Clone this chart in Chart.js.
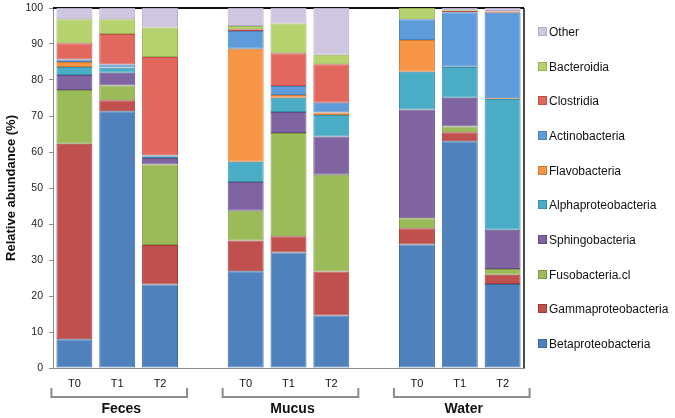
<!DOCTYPE html>
<html><head><meta charset="utf-8">
<script src="https://cdn.jsdelivr.net/npm/chart.js@4/dist/chart.umd.min.js"></script>
<style>html,body{margin:0;padding:0;background:#fff;}#wrap{width:675px;height:418px;position:relative;}</style>
</head><body><div id="wrap"><canvas id="c" width="675" height="418"></canvas></div>
<script>
// ---- data ----
const categories = ['T0','T1','T2','','T0','T1','T2','','T0','T1','T2'];
const groups = ['Feces','Mucus','Water'];
const groupRanges = [[0,2],[4,6],[8,10]];
const yTicks = [0,10,20,30,40,50,60,70,80,90,100];
const seriesNames = ['Betaproteobacteria','Gammaproteobacteria','Fusobacteria.cl','Sphingobacteria','Alphaproteobacteria','Flavobacteria','Actinobacteria','Clostridia','Bacteroidia','Other'];
const betaproteobacteria  = [8.0,71.3,23.2,null,26.9,32.1,14.6,null,34.3,63.0,23.3];
const gammaproteobacteria = [54.3,3.1,11.0,null,8.5,4.5,12.2,null,4.5,2.5,2.6];
const fusobacteria        = [14.9,4.1,22.3,null,8.3,28.7,26.9,null,2.8,1.6,1.6];
const sphingobacteria     = [4.2,3.5,1.8,null,8.0,5.8,10.6,null,30.2,8.0,10.9];
const alphaproteobacteria = [2.2,1.4,0.4,null,5.6,4.0,6.0,null,10.5,8.5,36.3];
const flavobacteria       = [1.4,0.1,0.0,null,31.4,0.7,0.7,null,8.8,0.1,0.2];
const actinobacteria      = [0.7,0.8,0.3,null,4.9,2.5,2.7,null,5.8,15.1,23.8];
const clostridia          = [4.5,8.5,27.4,null,0.5,9.1,10.7,null,0.0,0.4,0.3];
const bacteroidia         = [6.7,4.1,8.2,null,0.9,8.3,2.6,null,3.1,0.2,0.2];
const other               = [3.1,3.1,5.4,null,5.0,4.3,13.0,null,0.0,0.6,0.8];
const seriesValues = [betaproteobacteria,gammaproteobacteria,fusobacteria,sphingobacteria,alphaproteobacteria,flavobacteria,actinobacteria,clostridia,bacteroidia,other];

// ---- styles ----
const fills   = ['#4F81BD','#C0504D','#9BBB59','#8064A2','#4BACC6','#F79646','#5D9BDA','#E2675F','#B5D26E','#CFC6DF'];
const borders = ['#3D6A9E','#9E3B38','#7E9A45','#654C85','#3690A9','#D37A30','#4A81BD','#C24E48','#97B352','#B6AACB'];
const FONT = "'Liberation Sans', Arial, sans-serif";
const NARROW = "'Liberation Sans Narrow', 'Liberation Sans', Arial, sans-serif";

const datasets = seriesNames.map((n,i)=>({
  label:n, data:seriesValues[i], backgroundColor:fills[i], borderColor:borders[i],
  borderWidth:1, barPercentage:0.84, categoryPercentage:1.0, borderSkipped:false
}));

const framePlugin = {
  id:'frame',
  beforeDatasetsDraw(chart){
    const {ctx, chartArea:a} = chart;
    ctx.save();
    ctx.strokeStyle='#111'; ctx.lineWidth=2;
    ctx.beginPath(); ctx.moveTo(a.left, a.top); ctx.lineTo(a.right, a.top); ctx.stroke();
    ctx.lineWidth=1.5;
    ctx.beginPath(); ctx.moveTo(a.right, a.top); ctx.lineTo(a.right, a.bottom); ctx.stroke();
    ctx.restore();
  },
  afterDraw(chart){
    const {ctx} = chart;
    const xs = chart.scales.x;
    ctx.save();
    // brackets
    ctx.strokeStyle='#8C8C8C'; ctx.lineWidth=2;
    groupRanges.forEach((r,gi)=>{
      const x0 = xs.getPixelForValue(r[0]) - 23;
      const x1 = xs.getPixelForValue(r[1]) + 27;
      ctx.beginPath();
      ctx.moveTo(x0, 388); ctx.lineTo(x0, 397); ctx.lineTo(x1, 397); ctx.lineTo(x1, 388);
      ctx.stroke();
      ctx.fillStyle='#111'; ctx.font = "bold 14px "+FONT;
      ctx.textAlign='center'; ctx.textBaseline='middle';
      ctx.fillText(groups[gi], (x0+x1)/2 + 2, 409);
    });
    // legend
    const ds = chart.data.datasets;
    const ys = [32,67,101,136,171,205,240,275,309,344];
    ctx.font = "12px "+FONT; ctx.textAlign='left'; ctx.textBaseline='middle';
    for (let k=0;k<ds.length;k++){
      const d = ds[ds.length-1-k];
      const y = ys[k];
      ctx.fillStyle = d.backgroundColor; ctx.fillRect(538.5, y-4.5, 8, 8);
      ctx.strokeStyle = d.borderColor; ctx.lineWidth=1; ctx.strokeRect(538.5, y-4.5, 8, 8);
      ctx.fillStyle='#111'; ctx.fillText(d.label, 549, y+1);
    }
    ctx.restore();
  }
};

new Chart(document.getElementById('c'), {
  type:'bar',
  data:{labels:categories, datasets},
  plugins:[framePlugin],
  options:{
    responsive:false, animation:false,
    layout:{padding:{left:0,right:151,top:8,bottom:0}},
    plugins:{legend:{display:false}, tooltip:{enabled:false}},
    scales:{
      x:{
        stacked:true, offset:true,
        grid:{display:false, drawTicks:false},
        border:{display:true, color:'#8C8C8C', width:1},
        ticks:{font:{family:NARROW, size:11}, color:'#111', padding:9, maxRotation:0, autoSkip:false},
        afterFit(s){ s.height = 50; s.paddingLeft = 0; s.paddingRight = 0; }
      },
      y:{
        stacked:true, min:0, max:100,
        afterBuildTicks(s){ s.ticks = yTicks.map(v=>({value:v})); },
        grid:{drawOnChartArea:false, drawTicks:true, tickLength:4, color:'#8C8C8C'},
        border:{display:true, color:'#8C8C8C', width:1},
        ticks:{font:{family:FONT, size:10.5}, color:'#222', padding:6},
        title:{display:true, text:'Relative abundance (%)', font:{family:FONT, size:13, weight:'bold'}, color:'#111', padding:{top:4,bottom:0}},
        afterFit(s){ s.width = 53; s.paddingTop = 0; s.paddingBottom = 0; }
      }
    }
  }
});
</script></body></html>
